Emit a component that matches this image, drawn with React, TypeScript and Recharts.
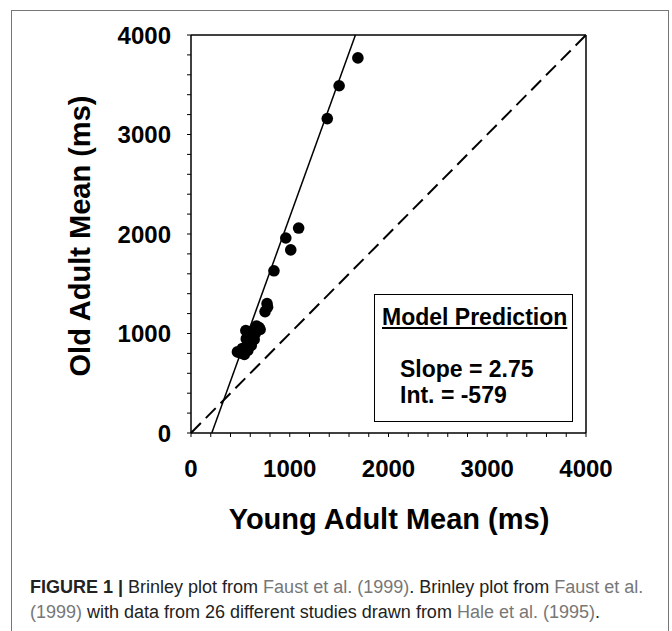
import React from 'react';
import { ReferenceLine, Scatter, ScatterChart, XAxis, YAxis } from 'recharts';

// young adult mean (ms) vs old adult mean (ms), 26 studies
const youngMeans = [1690, 1500, 1380, 1090, 960, 1010, 840, 770, 750, 775, 470, 540, 555, 585, 620, 650, 690, 640, 600, 520, 575, 700, 665, 560, 610, 500];
const oldMeans = [3770, 3490, 3160, 2060, 1960, 1840, 1630, 1300, 1220, 1265, 815, 790, 1030, 900, 960, 1000, 1060, 940, 1020, 850, 830, 1040, 1075, 945, 880, 805];

const axisTicks = [0, 200, 400, 600, 800, 1000, 1200, 1400, 1600, 1800, 2000, 2200, 2400, 2600, 2800, 3000, 3200, 3400, 3600, 3800, 4000];

const SLOPE = 2.75;
const INTERCEPT = -579;
const MAX = 4000;

const points = youngMeans.map((x, i) => ({ young: x, old: oldMeans[i] }));

const FONT = '"Liberation Sans", Arial, Helvetica, sans-serif';
const tickStyle = { fontFamily: FONT, fontSize: 24, fontWeight: 700, fill: '#000' };
const fmt = (v: number) => (v % 1000 === 0 ? String(v) : '');

const Dot = (p: any) => <circle cx={p.cx} cy={p.cy} r={5.8} fill="#000" />;

export default function App() {
  return (
    <div
      style={{
        position: 'absolute',
        left: 0,
        top: 0,
        width: 672,
        height: 631,
        overflow: 'hidden',
        background: '#fff',
        fontFamily: FONT,
      }}
    >
      <div
        style={{
          position: 'absolute',
          left: 11,
          top: 10,
          width: 656,
          height: 700,
          border: '1.5px solid #777',
        }}
      />
      <div style={{ position: 'absolute', left: 0, top: 0 }}>
        <ScatterChart width={672} height={631} margin={{ top: 35, right: 86, bottom: 138, left: 111 }}>
          <XAxis
            type="number"
            dataKey="young"
            domain={[0, MAX]}
            ticks={axisTicks}
            interval={0}
            tickFormatter={fmt}
            height={60}
            tickSize={4}
            tickMargin={23}
            tick={tickStyle}
            axisLine={{ stroke: '#000', strokeWidth: 1.5 }}
            tickLine={{ stroke: '#000' }}
          />
          <YAxis
            type="number"
            dataKey="old"
            domain={[0, MAX]}
            ticks={axisTicks}
            interval={0}
            tickFormatter={fmt}
            width={80}
            tickSize={4}
            tickMargin={16}
            tick={tickStyle}
            axisLine={{ stroke: '#000', strokeWidth: 1.5 }}
            tickLine={{ stroke: '#000' }}
          />
          <ReferenceLine y={MAX} stroke="#000" strokeWidth={1.5} />
          <ReferenceLine x={MAX} stroke="#000" strokeWidth={1.5} />
          <ReferenceLine
            segment={[
              { x: 0, y: 0 },
              { x: MAX, y: MAX },
            ]}
            stroke="#000"
            strokeWidth={2}
            strokeDasharray="14 7"
          />
          <ReferenceLine
            segment={[
              { x: -INTERCEPT / SLOPE, y: 0 },
              { x: (MAX - INTERCEPT) / SLOPE, y: MAX },
            ]}
            stroke="#000"
            strokeWidth={1.5}
          />
          <Scatter data={points} shape={Dot} isAnimationActive={false} />
        </ScatterChart>
      </div>

      {/* model prediction box */}
      <div
        style={{
          position: 'absolute',
          left: 374,
          top: 294,
          width: 197,
          height: 126,
          border: '1.5px solid #000',
          background: '#fff',
          fontWeight: 700,
          color: '#000',
          whiteSpace: 'nowrap',
        }}
      >
        <div style={{ position: 'absolute', left: 7, top: 9, fontSize: 23, textDecoration: 'underline' }}>
          Model Prediction
        </div>
        <div style={{ position: 'absolute', left: 25, top: 61, fontSize: 23 }}>Slope = 2.75</div>
        <div style={{ position: 'absolute', left: 25, top: 87, fontSize: 23 }}>Int. = -579</div>
      </div>

      <div
        style={{
          position: 'absolute',
          left: 80,
          top: 236,
          transform: 'translate(-50%, -50%) rotate(-90deg)',
          whiteSpace: 'nowrap',
          fontSize: 29,
          fontWeight: 700,
        }}
      >
        Old Adult Mean (ms)
      </div>
      <div
        style={{
          position: 'absolute',
          left: 389,
          top: 519,
          transform: 'translate(-50%, -50%)',
          whiteSpace: 'nowrap',
          fontSize: 29,
          fontWeight: 700,
        }}
      >
        Young Adult Mean (ms)
      </div>

      <div
        style={{
          position: 'absolute',
          left: 30,
          top: 575,
          fontSize: 18,
          lineHeight: '25px',
          color: '#222',
          whiteSpace: 'nowrap',
        }}
      >
        <div>
          <b>FIGURE 1 |</b> Brinley plot from <span style={{ color: '#777' }}>Faust et al. (1999)</span>. Brinley plot from{' '}
          <span style={{ color: '#777' }}>Faust et al.</span>
        </div>
        <div>
          <span style={{ color: '#777' }}>(1999)</span> with data from 26 different studies drawn from{' '}
          <span style={{ color: '#777' }}>Hale et al. (1995)</span>.
        </div>
      </div>
    </div>
  );
}
